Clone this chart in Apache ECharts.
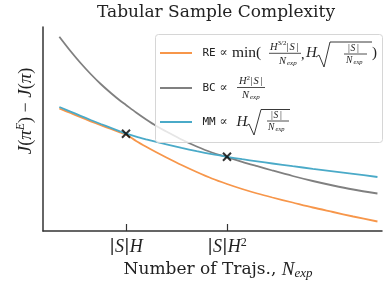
<!DOCTYPE html>
<html><head><meta charset="utf-8">
<script src="https://cdn.jsdelivr.net/npm/echarts@6/dist/echarts.min.js"></script>
<style>html,body{margin:0;padding:0;background:#fff}#c{width:385px;height:284px}</style>
</head><body><div id="c"></div>
<script>
// Number of trajectories (arbitrary units; |S|H = 10, |S|H^2 = 20)
const nExp = [3.4, 4.5, 5.5, 6.5, 7.5, 8.5, 9.4, 10, 11, 12, 13, 14, 15.5, 17, 18.5, 20, 21.5, 23, 24.5, 26.5, 28.5, 30.5, 32.5, 34.9];
// Performance gap J(pi^E) - J(pi) (arbitrary units)
const reGap = [122.5, 118, 113.8, 109.7, 105.8, 102, 98.6, 96.5, 90, 84.2, 78.7, 73.5, 66, 59, 52.5, 47, 42, 37.5, 33.5, 28.5, 23.5, 19, 14.5, 9.5];
const bcGap = [194.3, 180, 168, 157, 147, 138, 130.5, 126, 118.5, 111.5, 105, 99.5, 91.5, 84.5, 78.5, 74, 69.2, 64.8, 60.5, 55, 50, 45.5, 41.5, 37.5];
const mmGap = [124, 119.4, 115.2, 111, 107, 103.1, 99.6, 97.4, 94.4, 91.7, 89.1, 86.7, 83.1, 79.8, 76.8, 74.2, 71.8, 69.6, 67.5, 64.8, 62.2, 59.7, 57.2, 54];
const crossX = [10, 20];
const crossY = [97.2, 74.2];
const tickValues = [10, 20];
const tickLabels = ['|{s|S}|{i|H}', '|{s|S}|{i|H}{sup|2}'];

const colors = {re: '#f7964a', bc: '#808080', mm: '#4aaac8'};
const SERIF = '"DejaVu Serif", serif';
const MATH = '"Liberation Serif", "DejaVu Serif", serif';
const MONO = '"DejaVu Sans Mono", monospace';

function zip(xs, ys) { return xs.map((x, i) => [x, ys[i]]); }

function txt(x, y, text, size, opt) {
  opt = opt || {};
  return {type: 'text', x: x, y: y, z: 101, style: {
    text: text, fill: '#222',
    font: (opt.italic ? 'italic ' : '') + size + 'px ' + (opt.family || MATH),
    textAlign: opt.align || 'left', textVerticalAlign: 'middle'
  }};
}
function pl(points, w) {
  return {type: 'polyline', z: 101, shape: {points: points}, style: {stroke: '#222', lineWidth: w || 0.8, fill: null}};
}
function legLine(y, c) {
  return {type: 'line', z: 101, shape: {x1: 160, y1: y, x2: 192, y2: y}, style: {stroke: c, lineWidth: 2}};
}

const legend = [
  {type: 'rect', z: 100, shape: {x: 155.5, y: 34.5, width: 227, height: 108, r: 3},
   style: {fill: 'rgba(255,255,255,0.8)', stroke: '#d6d6d6', lineWidth: 1}},
  legLine(53, colors.re), legLine(88, colors.bc), legLine(122, colors.mm),
  // RE row
  txt(202.5, 53, 'RE', 11, {family: MONO}),
  txt(219.5, 53, '∝', 12, {family: SERIF}),
  txt(232, 53, 'min(', 15.5),
  txt(270, 47, 'H', 10.5, {italic: true}),
  txt(277.5, 43.5, '3/2', 7),
  txt(286.5, 47, '|', 10.5), txt(289.5, 47, 'S', 10.5, {italic: true}), txt(296.5, 47, '|', 10.5),
  pl([[269, 53.3], [301, 53.3]]),
  txt(279, 61, 'N', 10.5, {italic: true}), txt(287, 63, 'exp', 7, {italic: true}),
  txt(301, 55, ',', 14),
  txt(306, 53, 'H', 15, {italic: true}),
  pl([[316, 57], [319, 55], [324, 67], [330, 42], [372, 42]], 0.9),
  txt(348, 48, '|', 9.5), txt(350.5, 48, 'S', 9.5, {italic: true}), txt(357, 48, '|', 9.5),
  pl([[344, 54], [367, 54]]),
  txt(346, 60, 'N', 9.5, {italic: true}), txt(353.5, 62, 'exp', 6.5, {italic: true}),
  txt(372, 53, ')', 15),
  // BC row
  txt(202.5, 88, 'BC', 11, {family: MONO}),
  txt(219.5, 88, '∝', 12, {family: SERIF}),
  txt(239, 81, 'H', 10.5, {italic: true}), txt(246.5, 78, '2', 7),
  txt(250.5, 81, '|', 10.5), txt(253.5, 81, 'S', 10.5, {italic: true}), txt(260.5, 81, '|', 10.5),
  pl([[237, 87.5], [265, 87.5]]),
  txt(242, 95, 'N', 10.5, {italic: true}), txt(250, 97, 'exp', 7, {italic: true}),
  // MM row
  txt(202.5, 122, 'MM', 11, {family: MONO}),
  txt(219.5, 122, '∝', 12, {family: SERIF}),
  txt(236.5, 122, 'H', 15, {italic: true}),
  pl([[246, 126], [249, 124], [254, 135], [261, 109.5], [290, 109.5]], 0.9),
  txt(271, 115, '|', 9.5), txt(273.5, 115, 'S', 9.5, {italic: true}), txt(280, 115, '|', 9.5),
  pl([[267, 121], [289, 121]]),
  txt(268, 127, 'N', 9.5, {italic: true}), txt(275.5, 129, 'exp', 6.5, {italic: true})
];

const chart = echarts.init(document.getElementById('c'), null, {renderer: 'canvas'});
chart.setOption({
  animation: false,
  backgroundColor: '#fff',
  grid: {left: 43, right: 3, top: 27, bottom: 53},
  xAxis: {
    type: 'value', min: 1.782, max: 35.35,
    splitLine: {show: false},
    axisLine: {lineStyle: {color: '#333', width: 1.5}},
    axisTick: {show: true, inside: true, length: 7, customValues: tickValues, lineStyle: {color: '#333', width: 1.2}},
    axisLabel: {
      customValues: tickValues, margin: 6,
      formatter: function (v) { return tickLabels[tickValues.indexOf(v)] || ''; },
      color: '#222', fontFamily: SERIF, fontSize: 17, lineHeight: 20,
      rich: {
        s: {fontFamily: MATH, fontStyle: 'italic', fontSize: 18, lineHeight: 20, color: '#222'},
        i: {fontFamily: MATH, fontStyle: 'italic', fontSize: 18, lineHeight: 20, color: '#222'},
        sup: {fontFamily: MATH, fontSize: 12, lineHeight: 12, verticalAlign: 'top', color: '#222'}
      }
    }
  },
  yAxis: {
    type: 'value', min: 0, max: 204,
    splitLine: {show: false},
    axisLine: {show: true, lineStyle: {color: '#333', width: 1.5}},
    axisTick: {show: false}, axisLabel: {show: false}
  },
  series: [
    {type: 'line', name: 'BC', data: zip(nExp, bcGap), smooth: 0.3, showSymbol: false, lineStyle: {color: colors.bc, width: 1.8}, z: 2},
    {type: 'line', name: 'RE', data: zip(nExp, reGap), smooth: 0.3, showSymbol: false, lineStyle: {color: colors.re, width: 1.8}, z: 3},
    {type: 'line', name: 'MM', data: zip(nExp, mmGap), smooth: 0.3, showSymbol: false, lineStyle: {color: colors.mm, width: 1.8}, z: 4},
    {type: 'scatter', name: 'cross', data: zip(crossX, crossY), symbol: 'path://M0,0L10,10M10,0L0,10', symbolSize: 8,
     itemStyle: {color: 'none', borderColor: '#000', borderWidth: 2}, z: 5}
  ],
  graphic: [
    {type: 'text', x: 216, y: 13, z: 101, style: {text: 'Tabular Sample Complexity', font: '17px ' + SERIF, fill: '#222', textAlign: 'center', textVerticalAlign: 'middle'}},
    {type: 'text', x: 218, y: 270, z: 101, style: {
      text: 'Number of Trajs., {i|N}{sub|exp}', font: '17px ' + SERIF, fill: '#222', textAlign: 'center', textVerticalAlign: 'middle',
      rich: {
        i: {fontFamily: MATH, fontStyle: 'italic', fontSize: 19, lineHeight: 21, fill: '#222'},
        sub: {fontFamily: MATH, fontStyle: 'italic', fontSize: 13, lineHeight: 13, verticalAlign: 'bottom', fill: '#222'}
      }}},
    {type: 'text', x: 26, y: 111, rotation: Math.PI / 2, z: 101, style: {
      text: '{i|J}({i|π}{sup|E}) − {i|J}({i|π})', font: '18px ' + MATH, fill: '#222', textAlign: 'center', textVerticalAlign: 'middle',
      rich: {
        i: {fontFamily: MATH, fontStyle: 'italic', fontSize: 19, lineHeight: 22, fill: '#222'},
        sup: {fontFamily: MATH, fontStyle: 'italic', fontSize: 12, lineHeight: 12, verticalAlign: 'top', fill: '#222'}
      }}}
  ].concat(legend)
});
</script></body></html>
